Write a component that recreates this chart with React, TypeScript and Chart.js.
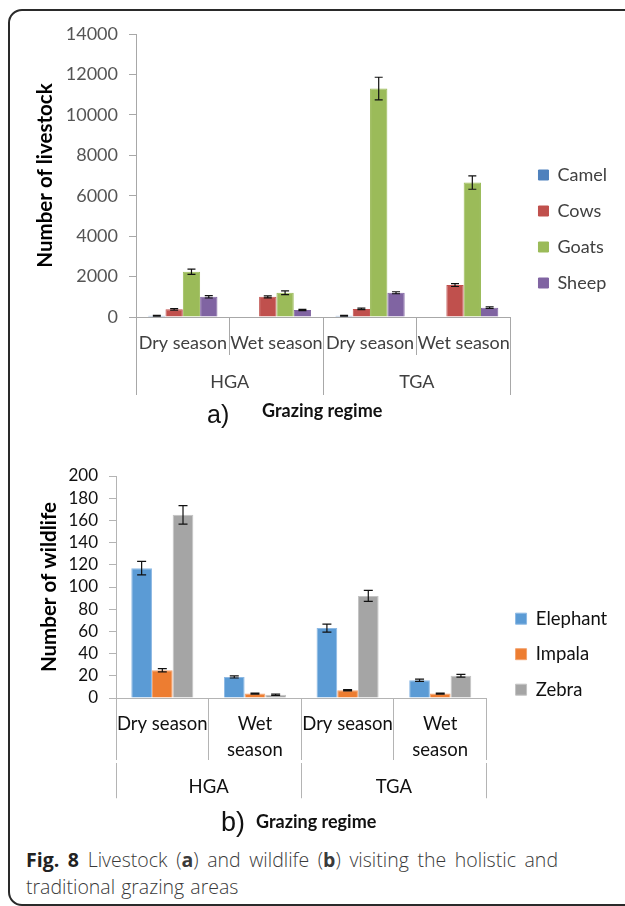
import React, { useEffect, useRef } from 'react';
import { Chart, registerables } from 'chart.js';

Chart.register(...registerables);

// ---------- Data: (a) livestock ----------
const livestockCategories = ['Dry season', 'Wet season', 'Dry season', 'Wet season'];
const livestockGroups = ['HGA', 'TGA'];
const livestockSeries = ['Camel', 'Cows', 'Goats', 'Sheep'];
const camelValues = [60, 0, 60, 0];
const cowsValues = [380, 1000, 400, 1580];
const goatsValues = [2240, 1200, 11300, 6650];
const sheepValues = [1000, 350, 1200, 460];
const camelErrors = [20, 0, 20, 0];
const cowsErrors = [40, 50, 40, 70];
const goatsErrors = [130, 90, 560, 330];
const sheepErrors = [60, 30, 50, 40];
const livestockYMax = 14000;
const livestockYStep = 2000;
const livestockColors = ['#4F81BD', '#C0504D', '#9BBB59', '#8064A2'];

// ---------- Data: (b) wildlife ----------
const wildlifeCategories: (string | string[])[] = ['Dry season', ['Wet', 'season'], 'Dry season', ['Wet', 'season']];
const wildlifeGroups = ['HGA', 'TGA'];
const wildlifeSeries = ['Elephant', 'Impala', 'Zebra'];
const elephantValues = [117, 19, 63, 16];
const impalaValues = [25, 4, 7, 4];
const zebraValues = [165, 3, 92, 20];
const elephantErrors = [6, 1, 3.6, 1];
const impalaErrors = [1.5, 0.5, 0.5, 0.5];
const zebraErrors = [8.4, 0.6, 5, 1.2];
const wildlifeYMax = 200;
const wildlifeYStep = 20;
const wildlifeColors = ['#5B9BD5', '#ED7D31', '#A5A5A5'];

const errorBarPlugin = {
  id: 'errorBars',
  afterDatasetsDraw(chart: any, _args: any, opts: any) {
    const ctx = chart.ctx;
    const yScale = chart.scales.y;
    chart.data.datasets.forEach((ds: any, di: number) => {
      const meta = chart.getDatasetMeta(di);
      const errs = opts.errors[di] || [];
      meta.data.forEach((bar: any, i: number) => {
        const e = errs[i];
        if (!e) return;
        const v = ds.data[i];
        const x = bar.x;
        const yTop = yScale.getPixelForValue(v + e);
        const yBot = yScale.getPixelForValue(Math.max(0, v - e));
        const c = opts.capWidth / 2;
        ctx.save();
        ctx.strokeStyle = opts.color;
        ctx.lineWidth = opts.lineWidth;
        ctx.beginPath();
        ctx.moveTo(x, yTop);
        ctx.lineTo(x, yBot);
        ctx.moveTo(x - c, yTop);
        ctx.lineTo(x + c, yTop);
        ctx.moveTo(x - c, yBot);
        ctx.lineTo(x + c, yBot);
        ctx.stroke();
        ctx.restore();
      });
    });
  },
};

const legendShiftPlugin = {
  id: 'legendShift',
  afterLayout(chart: any, _args: any, opts: any) {
    const l = chart.legend;
    if (!l) return;
    l.left += opts.dx;
    l.right += opts.dx;
    l.top += opts.dy;
    l.bottom += opts.dy;
  },
};

function buildConfig(p: any) {
  return {
    type: 'bar' as const,
    data: {
      labels: p.categories,
      datasets: p.series.map((name: string, i: number) => ({
        label: name,
        data: p.values[i],
        backgroundColor: p.colors[i],
        borderColor: p.borderColors[i],
        borderWidth: 1,
        categoryPercentage: p.barFrac,
        barPercentage: 1,
        xAxisID: 'x',
      })),
    },
    options: {
      animation: false as const,
      responsive: false,
      maintainAspectRatio: false,
      layout: { padding: p.padding },
      plugins: {
        tooltip: { enabled: false },
        legend: {
          position: 'right' as const,
          labels: {
            boxWidth: p.legendBox,
            boxHeight: p.legendBox,
            padding: p.legendPad,
            color: p.labelColor,
            font: { family: 'Lato', size: p.labelFont },
          },
        },
        errorBars: { errors: p.errors, capWidth: p.cap, color: '#111', lineWidth: 1.2 },
        legendShift: p.legendShift,
      },
      scales: {
        x: {
          type: 'category' as const,
          position: 'bottom' as const,
          weight: 0,
          offset: true,
          afterFit(scale: any) {
            scale.height = p.x1Height;
          },
          grid: {
            offset: true,
            drawOnChartArea: false,
            drawTicks: true,
            tickLength: p.x1Tick,
            color: p.gridColor,
          },
          border: { display: true, color: p.gridColor },
          ticks: {
            autoSkip: false,
            maxRotation: 0,
            minRotation: 0,
            padding: p.x1Pad,
            color: p.labelColor,
            font: { family: 'Lato', size: p.labelFont, lineHeight: p.labelLineHeight },
          },
        },
        x2: {
          type: 'category' as const,
          position: 'bottom' as const,
          weight: 1,
          labels: p.groups,
          offset: true,
          afterFit(scale: any) {
            scale.height = p.x2Height;
          },
          grid: {
            offset: true,
            drawOnChartArea: false,
            drawTicks: true,
            tickLength: p.x2Tick,
            color: p.gridColor,
          },
          border: { display: false },
          ticks: {
            autoSkip: false,
            maxRotation: 0,
            padding: p.x2Pad,
            color: p.labelColor,
            font: { family: 'Lato', size: p.labelFont },
          },
        },
        y: {
          min: 0,
          max: p.yMax,
          afterFit(scale: any) {
            scale.width = p.yWidth;
          },
          grid: {
            drawOnChartArea: false,
            drawTicks: true,
            tickLength: 7,
            color: p.gridColor,
          },
          border: { display: true, color: p.gridColor },
          ticks: {
            stepSize: p.yStep,
            autoSkip: false,
            padding: 11,
            color: p.tickColor,
            font: { family: 'Lato', size: p.tickFont },
            callback: (v: any) => String(v),
          },
          title: {
            display: true,
            text: p.yTitle,
            color: '#000',
            padding: { top: 4, bottom: 4 },
            font: { family: 'Lato', size: 20.5, weight: 'bold' as const },
          },
        },
      },
    },
    plugins: [errorBarPlugin, legendShiftPlugin],
  };
}

function useChart(ref: React.RefObject<HTMLCanvasElement | null>, cfg: () => any) {
  useEffect(() => {
    if (!ref.current) return;
    const chart = new Chart(ref.current, cfg());
    return () => chart.destroy();
  }, []);
}

export default function App() {
  const refA = useRef<HTMLCanvasElement | null>(null);
  const refB = useRef<HTMLCanvasElement | null>(null);

  useChart(refA, () =>
    buildConfig({
      categories: livestockCategories,
      groups: livestockGroups,
      series: livestockSeries,
      values: [camelValues, cowsValues, goatsValues, sheepValues],
      errors: [camelErrors, cowsErrors, goatsErrors, sheepErrors],
      colors: livestockColors,
      borderColors: livestockColors,
      yMax: livestockYMax,
      yStep: livestockYStep,
      yTitle: 'Number of livestock',
      barFrac: 0.74,
      tickFont: 18,
      labelFont: 18,
      labelLineHeight: 1.2,
      tickColor: '#555',
      labelColor: '#404040',
      gridColor: '#a8a8a8',
      yWidth: 107,
      padding: { left: 29, top: 34, right: 18, bottom: 37.2 },
      x1Tick: 38,
      x1Pad: -22.8,
      x1Height: 37,
      x2Tick: 41,
      x2Pad: -23.8,
      x2Height: 38.8,
      legendPad: 18,
      legendBox: 10,
      legendShift: { dx: 10, dy: 15.6 },
      cap: 8,
    })
  );

  useChart(refB, () =>
    buildConfig({
      categories: wildlifeCategories,
      groups: wildlifeGroups,
      series: wildlifeSeries,
      values: [elephantValues, impalaValues, zebraValues],
      errors: [elephantErrors, impalaErrors, zebraErrors],
      colors: wildlifeColors,
      borderColors: ['#8DB9E4', '#F3A470', '#C4C4C4'],
      yMax: wildlifeYMax,
      yStep: wildlifeYStep,
      yTitle: 'Number of wildlife',
      barFrac: 0.67,
      tickFont: 17,
      labelFont: 18.5,
      labelLineHeight: 1.38,
      tickColor: '#111',
      labelColor: '#111',
      gridColor: '#b4b4b4',
      yWidth: 83,
      padding: { left: 33, top: 46, right: 19.75, bottom: 31.65 },
      x1Tick: 62,
      x1Pad: -48.75,
      x1Height: 64.5,
      x2Tick: 35.75,
      x2Pad: -22.1,
      x2Height: 35.85,
      legendPad: 17,
      legendBox: 11,
      legendShift: { dx: 12, dy: 17 },
      cap: 9,
    })
  );

  return (
    <div
      style={{
        position: 'absolute',
        left: 0,
        top: 0,
        width: 625,
        height: 906,
        overflow: 'hidden',
        background: '#fff',
      }}
    >
      <div
        style={{
          position: 'absolute',
          left: 8,
          top: 9,
          width: 640,
          height: 893,
          border: '2px solid #2a2a2a',
          borderRadius: 14,
        }}
      />
      <canvas
        ref={refA}
        width={625}
        height={430}
        style={{ position: 'absolute', left: 0, top: 0, width: 625, height: 430 }}
      />
      <canvas
        ref={refB}
        width={625}
        height={400}
        style={{ position: 'absolute', left: 0, top: 430, width: 625, height: 400 }}
      />
      <div
        style={{
          position: 'absolute',
          left: 207,
          top: 399,
          fontFamily: '"Liberation Sans", Arial, sans-serif',
          fontSize: 25,
          lineHeight: '30px',
          color: '#111',
        }}
      >
        a)
      </div>
      <div
        style={{
          position: 'absolute',
          left: 262,
          top: 399,
          fontFamily: 'Lato, sans-serif',
          fontWeight: 'bold',
          fontSize: 18,
          lineHeight: '22px',
          color: '#111',
        }}
      >
        Grazing regime
      </div>
      <div
        style={{
          position: 'absolute',
          left: 221,
          top: 807,
          fontFamily: '"Liberation Sans", Arial, sans-serif',
          fontSize: 27,
          lineHeight: '30px',
          color: '#111',
        }}
      >
        b)
      </div>
      <div
        style={{
          position: 'absolute',
          left: 256,
          top: 810,
          fontFamily: 'Lato, sans-serif',
          fontWeight: 'bold',
          fontSize: 18,
          lineHeight: '22px',
          color: '#111',
        }}
      >
        Grazing regime
      </div>
      <div
        style={{
          position: 'absolute',
          left: 26,
          top: 846,
          width: 532,
          fontFamily: '"Open Sans", sans-serif',
          fontSize: 19.5,
          fontWeight: 300,
          lineHeight: '27px',
          color: '#3a3a3a',
        }}
      >
        <div style={{ textAlign: 'justify', textAlignLast: 'justify' as any }}>
          <b style={{ color: '#222', fontWeight: 700 }}>Fig. 8</b> Livestock (<b style={{ fontWeight: 700 }}>a</b>) and wildlife (<b style={{ fontWeight: 700 }}>b</b>) visiting the holistic and
        </div>
        <div style={{ wordSpacing: 1 }}>traditional grazing areas</div>
      </div>
    </div>
  );
}
